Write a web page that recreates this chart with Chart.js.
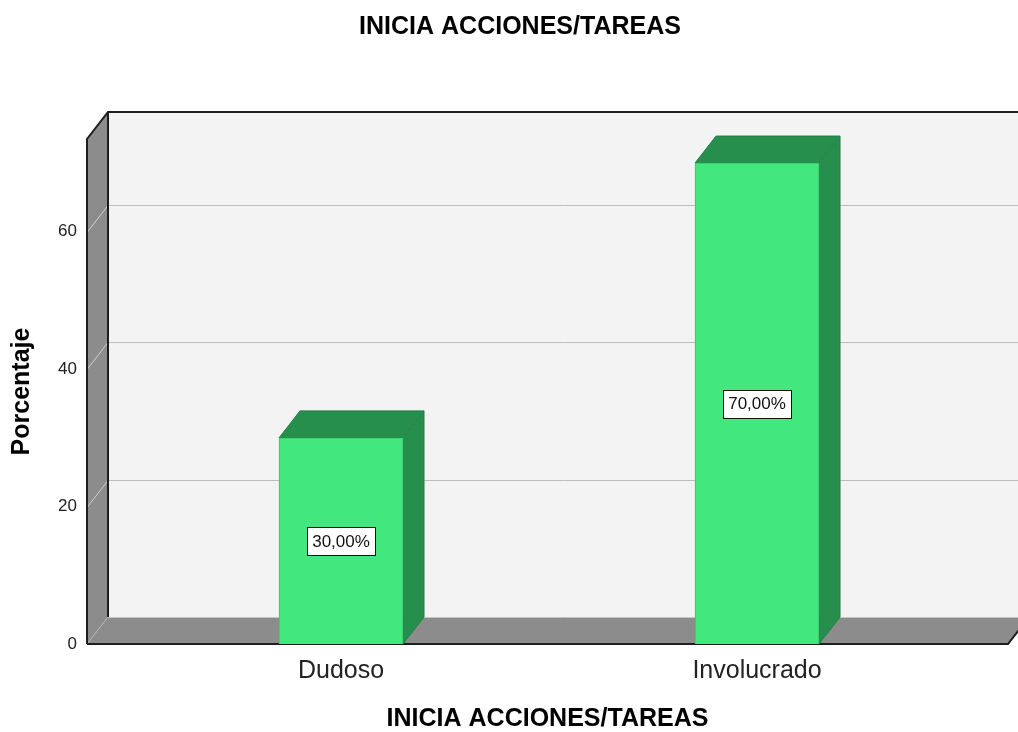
<!DOCTYPE html>
<html>
<head>
<meta charset="utf-8">
<title>INICIA ACCIONES/TAREAS</title>
<script src="https://cdn.jsdelivr.net/npm/chart.js@4.4.0/dist/chart.umd.min.js"></script>
<style>
	body { margin: 0; background: #fff; }
	canvas { display: block; }
</style>
</head>
<body>
<canvas id="barChart" width="1018" height="732"></canvas>
<script>
var chartTitle = "INICIA ACCIONES/TAREAS";
var categories = ["Dudoso", "Involucrado"];
var percentages = [30, 70];
var yTicks = [0, 20, 40, 60];

var FONT = 'Arial, "Liberation Sans", sans-serif';
// depth of the fake 3d box
var DX = 21, DY = 27;

function pct(v) {
	return v.toFixed(2).replace(".", ",") + "%";
}

function line(ctx, pts, color, w) {
	ctx.beginPath();
	ctx.moveTo(pts[0][0], pts[0][1]);
	for (var i = 1; i < pts.length; i++) ctx.lineTo(pts[i][0], pts[i][1]);
	ctx.strokeStyle = color;
	ctx.lineWidth = w;
	ctx.stroke();
}

function poly(ctx, pts, fill) {
	ctx.beginPath();
	ctx.moveTo(pts[0][0], pts[0][1]);
	for (var i = 1; i < pts.length; i++) ctx.lineTo(pts[i][0], pts[i][1]);
	ctx.closePath();
	ctx.fillStyle = fill;
	ctx.fill();
}

var box3d = {
	id: "box3d",
	beforeDatasetsDraw: function (chart) {
		var ctx = chart.ctx, a = chart.chartArea, y = chart.scales.y;
		var W = chart.width + DX;
		ctx.save();
		// back wall
		ctx.fillStyle = "#f3f3f3";
		ctx.fillRect(a.left + DX, a.top - DY, W, a.bottom - a.top);
		// left wall
		poly(ctx, [[a.left, a.top], [a.left + DX, a.top - DY], [a.left + DX, a.bottom - DY], [a.left, a.bottom]], "#8c8c8c");
		// grid lines
		yTicks.forEach(function (v) {
			if (v === 0) return;
			var yy = Math.round(y.getPixelForValue(v)) + 0.5;
			line(ctx, [[a.left + DX, yy - DY], [W, yy - DY]], "#bdbdbd", 1);
			line(ctx, [[a.left, yy], [a.left + DX, yy - DY]], "#cfcfcf", 1);
		});
		// floor
		poly(ctx, [[a.left, a.bottom], [a.left + DX, a.bottom - DY], [a.right + DX, a.bottom - DY], [a.right, a.bottom]], "#8c8c8c");
		line(ctx, [[a.left + DX, a.bottom - DY + 0.5], [W, a.bottom - DY + 0.5]], "#c4c4c4", 1);
		line(ctx, [[a.left, a.bottom], [a.left + DX, a.bottom - DY]], "#b4b4b4", 1);
		// dark edges
		line(ctx, [[a.left, a.bottom], [a.left, a.top], [a.left + DX, a.top - DY], [W, a.top - DY]], "#1e1e1e", 2);
		line(ctx, [[a.left + DX, a.top - DY], [a.left + DX, a.bottom - DY]], "#1e1e1e", 2);
		line(ctx, [[a.left, a.bottom], [a.right, a.bottom], [a.right + DX, a.bottom - DY]], "#1e1e1e", 2);
		ctx.restore();
	},
	afterDatasetsDraw: function (chart) {
		var ctx = chart.ctx, y = chart.scales.y;
		var meta = chart.getDatasetMeta(0);
		ctx.save();
		meta.data.forEach(function (bar, i) {
			var l = bar.x - bar.width / 2, r = bar.x + bar.width / 2;
			var t = bar.y, b = bar.base;
			poly(ctx, [[l, t], [l + DX, t - DY], [r + DX, t - DY], [r, t]], "#268f4e");
			poly(ctx, [[r, t], [r + DX, t - DY], [r + DX, b - DY], [r, b]], "#268f4e");
			line(ctx, [[l, t], [l + DX, t - DY], [r + DX, t - DY], [r, t]], "#227f46", 1);
			line(ctx, [[r + DX, t - DY], [r + DX, b - DY], [r, b]], "#227f46", 1);

			// value label in the middle of the bar
			var v = percentages[i];
			var cy = y.getPixelForValue(v / 2);
			var txt = pct(v);
			ctx.font = "17px " + FONT;
			var tw = ctx.measureText(txt).width;
			var bw = Math.round(tw + 10), bh = 28;
			var bx = Math.round(bar.x - bw / 2) + 0.5, by = Math.round(cy - bh / 2) + 0.5;
			ctx.fillStyle = "#fff";
			ctx.fillRect(bx, by, bw, bh);
			ctx.strokeStyle = "#111";
			ctx.lineWidth = 1;
			ctx.strokeRect(bx, by, bw, bh);
			ctx.fillStyle = "#111";
			ctx.textAlign = "center";
			ctx.textBaseline = "middle";
			ctx.fillText(txt, bar.x, cy + 1);
		});
		ctx.restore();
	},
	afterDraw: function (chart) {
		var ctx = chart.ctx;
		ctx.save();
		ctx.font = "bold 25px " + FONT;
		ctx.fillStyle = "#000";
		ctx.textAlign = "center";
		ctx.textBaseline = "middle";
		ctx.fillText(chartTitle, 520, 27);
		ctx.restore();
	}
};

var canvas = document.getElementById("barChart");
var ctx = canvas.getContext("2d");

new Chart(ctx, {
	type: "bar",
	data: {
		datasets: [{
			data: percentages.map(function (v, i) { return { x: i, y: v }; }),
			backgroundColor: "#42e87e",
			borderColor: "#38c56c",
			borderWidth: 1,
			barThickness: 124
		}]
	},
	options: {
		responsive: false,
		animation: false,
		devicePixelRatio: 1,
		layout: { padding: { top: 139, right: 10, left: 0, bottom: 0 } },
		plugins: {
			legend: { display: false },
			title: { display: false },
			tooltip: { enabled: false }
		},
		scales: {
			x: {
				type: "linear",
				offset: false,
				min: -0.6106,
				max: 1.6033,
				grid: { display: false, drawTicks: false, offset: false },
				border: { display: false },
				afterBuildTicks: function (axis) {
					axis.ticks = categories.map(function (c, i) { return { value: i }; });
				},
				afterFit: function (axis) { axis.height = 88; },
				ticks: {
					padding: 12,
					color: "#222",
					font: { family: FONT, size: 25 },
					callback: function (v) { return categories[v]; }
				},
				title: {
					display: true,
					text: chartTitle,
					color: "#000",
					font: { family: FONT, size: 25, weight: "bold", lineHeight: 1 },
					padding: { top: 0, bottom: 0 }
				}
			},
			y: {
				min: 0,
				max: 73.5,
				grid: { display: false, drawTicks: false },
				border: { display: false },
				afterBuildTicks: function (axis) {
					axis.ticks = yTicks.map(function (v) { return { value: v }; });
				},
				afterFit: function (axis) { axis.width = 87; },
				ticks: {
					padding: 10,
					color: "#222",
					font: { family: FONT, size: 17 }
				},
				title: {
					display: true,
					text: "Porcentaje",
					color: "#000",
					font: { family: FONT, size: 25, weight: "bold", lineHeight: 1 },
					padding: { top: 10, bottom: 0 }
				}
			}
		}
	},
	plugins: [box3d]
});
</script>
</body>
</html>
